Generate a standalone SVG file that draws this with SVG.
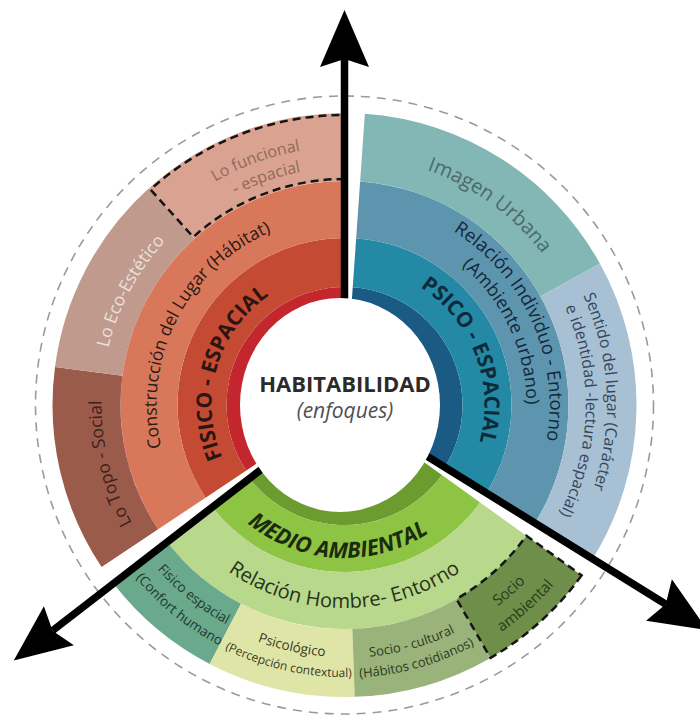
<svg xmlns="http://www.w3.org/2000/svg" xmlns:xlink="http://www.w3.org/1999/xlink" width="700" height="717" viewBox="0 0 700 717">
<style>
  text { font-family: "Open Sans", "Liberation Sans", sans-serif; }
  .t1 { font-size: 21px; font-weight: 700; }
  .t2 { font-size: 17.5px; }
  .t3 { font-size: 16px; }
  .t4 { font-size: 13.5px; }
  .dash { fill: none; stroke: #151515; stroke-width: 2.5; stroke-dasharray: 8 5; }
  .arrow { fill: none; stroke: #000; stroke-width: 7.5; marker-end: url(#ah); }
</style>
<defs>
  <marker id="ah" markerUnits="userSpaceOnUse" markerWidth="58" markerHeight="52" viewBox="0 -26 58 52" refX="8" refY="0" orient="auto" overflow="visible">
    <path d="M0,-24.5 L57,0 L0,24.5 L8,0 Z" fill="#000"/>
  </marker>
  <path id="pFis" d="M 248.83,497.39 A 133 133 0 0 1 312.32,275.95"/>
  <path id="pCon" d="M 186.83,507.39 A 188 188 0 0 1 334.66,217.26"/>
  <path id="pTopo" d="M 237.98,623.41 A 243 243 0 0 1 147.91,262.17"/>
  <path id="pEco" d="M 119.20,496.03 A 243 243 0 0 1 293.98,167.31"/>
  <path id="pFun1" d="M 102.06,316.76 A 258 258 0 0 1 473.5,181.57"/>
  <path id="pFun2" d="M 123.24,320.07 A 237 237 0 0 1 466.56,201.85"/>
  <path id="pPsi" d="M 366.40,266.73 A 140 140 0 0 1 453.30,493.10"/>
  <path id="pRel1" d="M 365.93,201.12 A 205 205 0 0 1 510.35,525.50"/>
  <path id="pRel2" d="M 360.36,223.69 A 182 182 0 0 1 493.59,509.39"/>
  <path id="pIma" d="M 284.26,163.40 A 249 249 0 0 1 592.89,387.63"/>
  <path id="pSen1" d="M 463.89,171.24 A 262 262 0 0 1 487.20,624.73"/>
  <path id="pSen2" d="M 470.44,199.24 A 241 241 0 0 1 459.50,616.80"/>
  <path id="pMed" d="M 208.18,474.46 A 153 153 0 0 0 472.81,488.33"/>
  <path id="pHom" d="M 168.70,506.5 A 203 203 0 0 0 520.30,506.5"/>
  <path id="pFe1" d="M 100.5,454.64 A 249 249 0 0 0 351.02,653.92"/>
  <path id="pFe2" d="M 78.94,459.03 A 271 271 0 0 0 351.59,675.91"/>
  <path id="pPs1" d="M 145.11,559.11 A 252 252 0 0 0 461.64,628.12"/>
  <path id="pPs2" d="M 129.29,571.34 A 272 272 0 0 0 470.94,645.83"/>
  <path id="pSc1" d="M 240.79,635.77 A 253 253 0 0 0 553.75,547.21"/>
  <path id="pSc2" d="M 232.59,654.01 A 273 273 0 0 0 570.29,558.45"/>
  <path id="pSa1" d="M 351.12,657.91 A 253 253 0 0 0 594.72,442.40"/>
  <path id="pSa2" d="M 354.13,680.83 A 276 276 0 0 0 617.81,443.41"/>
</defs>

<rect width="700" height="717" fill="#ffffff"/>

<circle id="outer-ring" cx="344.5" cy="405" r="309" fill="none" stroke="#9a9a9a" stroke-width="1.6" stroke-dasharray="9 7"/>

<g id="fisico-espacial">
  <path d="M 246.32,470.47 A 118 118 0 0 1 344.5,287 L 344.5,315 A 90 90 0 0 0 269.62,454.93 Z" fill="#c3262c"/>
  <path d="M 205.56,497.65 A 167 167 0 0 1 344.5,238 L 344.5,287 A 118 118 0 0 0 246.32,470.47 Z" fill="#c44a33"/>
  <path d="M 158.13,529.28 A 224 224 0 0 1 344.5,181 L 344.5,238 A 167 167 0 0 0 205.56,497.65 Z" fill="#d9775a"/>
  <text class="t1" fill="#2a1510"><textPath xlink:href="#pFis" startOffset="50%" text-anchor="middle">FISICO - ESPACIAL</textPath></text>
  <text class="t2" fill="#2a1a14"><textPath xlink:href="#pCon" startOffset="50%" text-anchor="middle">Construcción del Lugar (Hábitat)</textPath></text>
</g>
<g id="lo-topo-social">
  <path d="M 101.56,567 A 292 292 0 0 1 55,366.89 L 122.42,375.76 A 224 224 0 0 0 158.13,529.28 Z" fill="#9b5b4b"/>
  <text class="t2" fill="#3b221c"><textPath xlink:href="#pTopo" startOffset="50%" text-anchor="middle">Lo Topo - Social</textPath></text>
</g>
<g id="lo-eco-estetico">
  <path d="M 55,366.89 A 292 292 0 0 1 149.11,188 L 194.61,238.54 A 224 224 0 0 0 122.42,375.76 Z" fill="#c09a8c"/>
  <text class="t2" fill="#ebe1dc"><textPath xlink:href="#pEco" startOffset="50%" text-anchor="middle">Lo Eco-Estético</textPath></text>
</g>
<g id="lo-funcional">
  <path d="M 149.11,188 A 292 292 0 0 1 344.5,113 L 344.5,181 A 224 224 0 0 0 194.61,238.54 Z" fill="#daa290"/>
  <path class="dash" d="M 344.5,179 A 226 226 0 0 0 193.28,237.05 L 150.45,189.49 A 290 290 0 0 1 344.5,115"/>
  <text class="t3" fill="#8e6a5e"><textPath xlink:href="#pFun1" startOffset="50%" text-anchor="middle">Lo funcional</textPath></text>
  <text class="t3" fill="#8e6a5e"><textPath xlink:href="#pFun2" startOffset="50%" text-anchor="middle">- espacial</textPath></text>
</g>

<g id="psico-espacial">
  <path d="M 352.73,287.29 A 118 118 0 0 1 444.79,467.18 L 420.99,452.43 A 90 90 0 0 0 350.78,315.22 Z" fill="#1a5a85"/>
  <path d="M 356.15,238.41 A 167 167 0 0 1 486.43,493 L 444.79,467.18 A 118 118 0 0 0 352.73,287.29 Z" fill="#2389a5"/>
  <path d="M 360.13,181.55 A 224 224 0 0 1 534.88,523.04 L 486.43,493 A 167 167 0 0 0 356.15,238.41 Z" fill="#5e95ae"/>
  <text class="t1" fill="#0e2a3a"><textPath xlink:href="#pPsi" startOffset="50%" text-anchor="middle">PSICO - ESPACIAL</textPath></text>
  <text font-size="18.5" fill="#13283a"><textPath xlink:href="#pRel1" startOffset="50%" text-anchor="middle">Relación Individuo - Entorno</textPath></text>
  <text font-size="18" fill="#13283a"><textPath xlink:href="#pRel2" startOffset="50%" text-anchor="middle">(Ambiente urbano)</textPath></text>
</g>
<g id="imagen-urbana">
  <path d="M 364.87,113.71 A 292 292 0 0 1 599.89,263.44 L 540.41,296.40 A 224 224 0 0 0 360.13,181.55 Z" fill="#82b7b5"/>
  <text font-size="20" fill="#4b6b6a"><textPath xlink:href="#pIma" startOffset="50%" text-anchor="middle">Imagen Urbana</textPath></text>
</g>
<g id="sentido-del-lugar">
  <path d="M 599.89,263.44 A 292 292 0 0 1 592.67,558.87 L 534.88,523.04 A 224 224 0 0 0 540.41,296.40 Z" fill="#a8c0d4"/>
  <text class="t3" fill="#34465a"><textPath xlink:href="#pSen1" startOffset="50%" text-anchor="middle">Sentido del lugar (Carácter</textPath></text>
  <text class="t3" fill="#34465a"><textPath xlink:href="#pSen2" startOffset="50%" text-anchor="middle">e identidad -lectura espacial)</textPath></text>
</g>

<g id="medio-ambiental">
  <path d="M 441.95,475.02 A 120 120 0 0 1 249.55,478.38 L 273.29,460.04 A 90 90 0 0 0 417.59,457.52 Z" fill="#6c9b30"/>
  <path d="M 480.12,502.45 A 167 167 0 0 1 212.37,507.13 L 249.55,478.38 A 120 120 0 0 0 441.95,475.02 Z" fill="#8dc443"/>
  <path d="M 526.41,535.71 A 224 224 0 0 1 167.27,541.98 L 212.37,507.13 A 167 167 0 0 0 480.12,502.45 Z" fill="#b8d88c"/>
  <text font-size="22" font-weight="700" font-style="italic" fill="#1c2a0e"><textPath xlink:href="#pMed" startOffset="50%" text-anchor="middle">MEDIO AMBIENTAL</textPath></text>
  <text font-size="20" fill="#26331a"><textPath xlink:href="#pHom" startOffset="50%" text-anchor="middle">Relación Hombre- Entorno</textPath></text>
</g>
<g id="fisico-espacial-confort">
  <path d="M 209.67,664.01 A 292 292 0 0 1 113.46,583.57 L 167.27,541.98 A 224 224 0 0 0 241.07,603.69 Z" fill="#6aa98c"/>
  <text class="t4" fill="#1f3a30"><textPath xlink:href="#pFe1" startOffset="50%" text-anchor="middle">Fisico espacial</textPath></text>
  <text class="t4" fill="#1f3a30"><textPath xlink:href="#pFe2" startOffset="50%" text-anchor="middle">(Confort humano)</textPath></text>
</g>
<g id="psicologico">
  <path d="M 354.69,696.82 A 292 292 0 0 1 209.67,664.01 L 241.07,603.69 A 224 224 0 0 0 352.32,628.86 Z" fill="#dfe5a7"/>
  <text class="t4" fill="#3a3a20"><textPath xlink:href="#pPs1" startOffset="50%" text-anchor="middle">Psicológico</textPath></text>
  <text font-size="12" fill="#3a3a20"><textPath xlink:href="#pPs2" startOffset="50%" text-anchor="middle">(Percepción contextual)</textPath></text>
</g>
<g id="socio-cultural">
  <path d="M 490.5,657.88 A 292 292 0 0 1 354.69,696.82 L 352.32,628.86 A 224 224 0 0 0 456.5,598.99 Z" fill="#9ab37b"/>
  <text font-size="13" fill="#2a3a1e"><textPath xlink:href="#pSc1" startOffset="50%" text-anchor="middle">Socio - cultural</textPath></text>
  <text font-size="13" fill="#2a3a1e"><textPath xlink:href="#pSc2" startOffset="50%" text-anchor="middle">(Hábitos cotidianos)</textPath></text>
</g>
<g id="socio-ambiental">
  <path d="M 581.63,575.39 A 292 292 0 0 1 490.5,657.88 L 456.5,598.99 A 224 224 0 0 0 526.41,535.71 Z" fill="#6e8e4a"/>
  <path class="dash" d="M 581.63,575.39 A 292 292 0 0 1 490.5,657.88 L 456.5,598.99 A 224 224 0 0 0 526.41,535.71 Z"/>
  <text font-size="15" fill="#2b3b1c"><textPath xlink:href="#pSa1" startOffset="50%" text-anchor="middle">Socio</textPath></text>
  <text font-size="15" fill="#2b3b1c"><textPath xlink:href="#pSa2" startOffset="50%" text-anchor="middle">ambiental</textPath></text>
</g>

<g id="connectors">
  <path class="arrow" d="M 344.5,405 L 344.5,59"/>
  <path class="arrow" d="M 344.5,405 L 52.54,630.65"/>
  <path class="arrow" d="M 344.5,405 L 665.76,604.19"/>
</g>

<g id="habitabilidad">
  <ellipse cx="340" cy="405" rx="100" ry="107" fill="#ffffff"/>
  <text x="345" y="392" font-size="22" font-weight="700" fill="#2b2b2b" text-anchor="middle">HABITABILIDAD</text>
  <text x="345" y="418" font-size="21" font-style="italic" fill="#505050" text-anchor="middle">(enfoques)</text>
</g>
</svg>
